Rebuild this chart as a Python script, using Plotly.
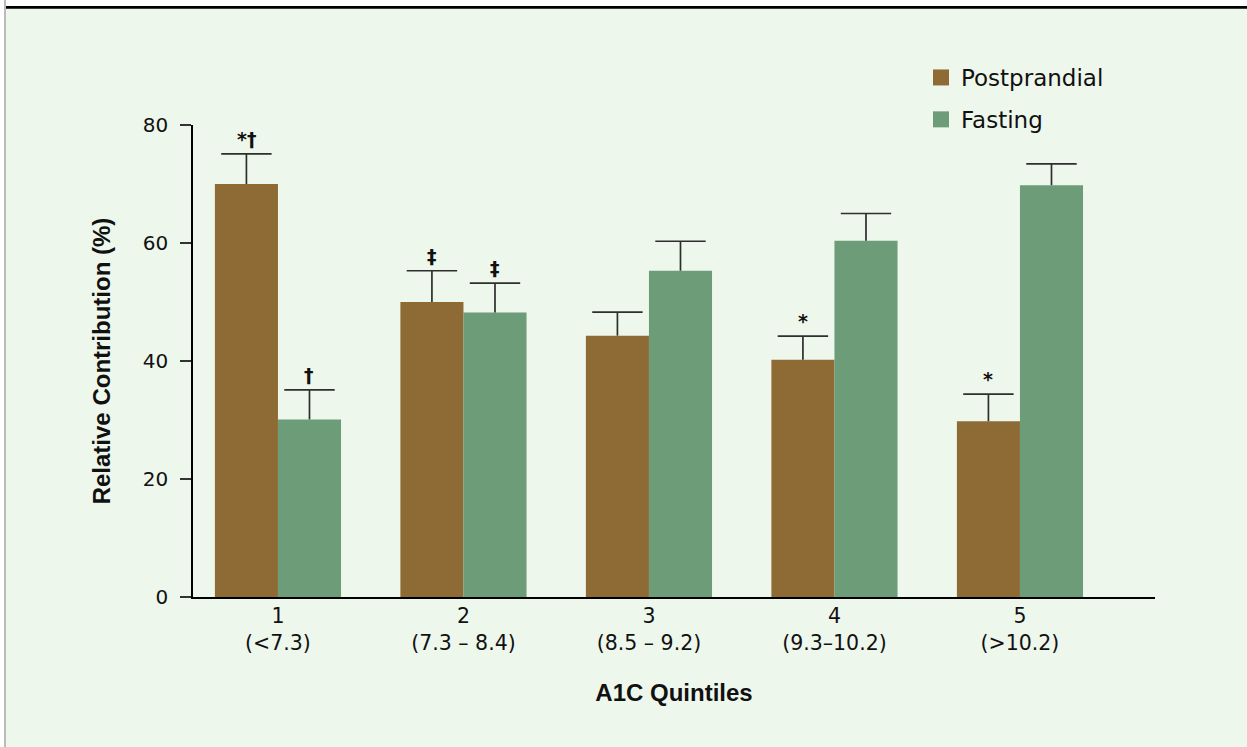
import plotly.graph_objects as go

# ---- data ----
quintiles = ["1<br>(<7.3)", "2<br>(7.3 – 8.4)", "3<br>(8.5 – 9.2)", "4<br>(9.3–10.2)", "5<br>(>10.2)"]
postprandial = [70, 50, 44.3, 40.2, 29.8]
postprandial_err = [5.1, 5.3, 4.0, 4.0, 4.6]
fasting = [30.1, 48.2, 55.3, 60.4, 69.8]
fasting_err = [5.0, 5.0, 5.0, 4.6, 3.6]
post_marks = ["*†", "‡", "", "*", "*"]
fast_marks = ["†", "‡", "", "", ""]
yticks = [0, 20, 40, 60, 80]

BROWN = "#8E6A35"
GREEN = "#6C9C78"
BG = "#EEF7EC"
ERR = "#2e2e2e"
FONT = "DejaVu Sans"
BOLD = "Liberation Sans"

W, H = 1247, 747
L, R, T, B = 193, 92, 125, 150
pw, ph = W - L - R, H - T - B
BAR_GAP = 0.32
HALF = (1 - BAR_GAP) / 4  # offset of each bar centre from category centre


def px_x(p):
    return (p - L) / pw


def px_y(p):
    return (H - B - p) / ph


xs = list(range(len(quintiles)))

fig = go.Figure()
for name, vals, errs, col, sign in [("Postprandial", postprandial, postprandial_err, BROWN, -1),
                                     ("Fasting", fasting, fasting_err, GREEN, 1)]:
    fig.add_trace(go.Bar(
        x=xs, y=vals, name=name, marker=dict(color=col, line=dict(width=0)), showlegend=False,
        error_y=dict(type="data", array=errs, arrayminus=[0] * len(errs), symmetric=False,
                     color=ERR, thickness=1.7, width=0),
    ))
    # caps at the top of the error bars
    fig.add_trace(go.Scatter(
        x=[i + sign * HALF for i in xs], y=[v + e for v, e in zip(vals, errs)],
        mode="markers", showlegend=False, hoverinfo="skip",
        marker=dict(symbol="line-ew", size=36, line=dict(color=ERR, width=1.7)),
    ))

# legend entries
for name, col in [("Postprandial", BROWN), ("Fasting", GREEN)]:
    fig.add_trace(go.Scatter(x=[None], y=[None], mode="markers", name=name, legendgroup=name,
                             marker=dict(symbol="square", size=16, color=col)))

annotations = []
for i in xs:
    for marks, vals, errs, sign in [(post_marks, postprandial, postprandial_err, -1),
                                    (fast_marks, fasting, fasting_err, 1)]:
        if marks[i]:
            annotations.append(dict(x=i + sign * HALF, y=vals[i] + errs[i], text="<b>" + marks[i] + "</b>",
                                    showarrow=False, yanchor="bottom", yshift=2,
                                    font=dict(family=FONT, size=19, color="#111")))

shapes = [
    dict(type="rect", xref="paper", yref="paper", x0=px_x(-10), x1=px_x(W + 10), y0=px_y(6.5), y1=px_y(-10),
         fillcolor="white", line_width=0, layer="below"),
    dict(type="rect", xref="paper", yref="paper", x0=px_x(5), x1=px_x(W + 10), y0=px_y(8.7), y1=px_y(6),
         fillcolor="black", line_width=0, layer="above"),
    dict(type="rect", xref="paper", yref="paper", x0=px_x(-10), x1=px_x(4), y0=px_y(H + 10), y1=px_y(-10),
         fillcolor="white", line_width=0, layer="below"),
    dict(type="rect", xref="paper", yref="paper", x0=px_x(4), x1=px_x(6), y0=px_y(H + 10), y1=px_y(-10),
         fillcolor="#BBBBBB", line_width=0, layer="above"),
]

fig.update_layout(
    width=W, height=H,
    margin=dict(l=L, r=R, t=T, b=B, pad=0),
    paper_bgcolor=BG, plot_bgcolor=BG,
    barmode="group", bargap=BAR_GAP, bargroupgap=0,
    font=dict(family=FONT, size=20, color="#111"),
    annotations=annotations,
    shapes=shapes,
    legend=dict(x=px_x(921), y=px_y(56), xanchor="left", yanchor="top",
                bgcolor="rgba(0,0,0,0)", font=dict(family=FONT, size=23, color="#111"),
                traceorder="grouped", tracegroupgap=9, itemwidth=30),
    xaxis=dict(range=[-0.458, 4.728], tickvals=xs, ticktext=quintiles, showgrid=False, zeroline=False,
               showline=True, linecolor="black", linewidth=1.5, ticks="",
               tickfont=dict(family=FONT, size=20.5, color="#111"),
               title=dict(text="<b>A1C Quintiles</b>", font=dict(family=BOLD, size=24, color="#111"),
                          standoff=30)),
    yaxis=dict(range=[0, 80], tickvals=yticks, showgrid=False, zeroline=False,
               showline=True, linecolor="black", linewidth=1.5, ticks="outside", ticklen=11,
               tickcolor="#333", tickwidth=1.5, ticklabelstandoff=8,
               tickfont=dict(family=FONT, size=20, color="#111"),
               title=dict(text="<b>Relative Contribution (%)</b>", font=dict(family=BOLD, size=24, color="#111"),
                          standoff=25)),
)

fig.write_html("out.html", config={"displayModeBar": False},
               post_script="document.body.style.margin='0';")
